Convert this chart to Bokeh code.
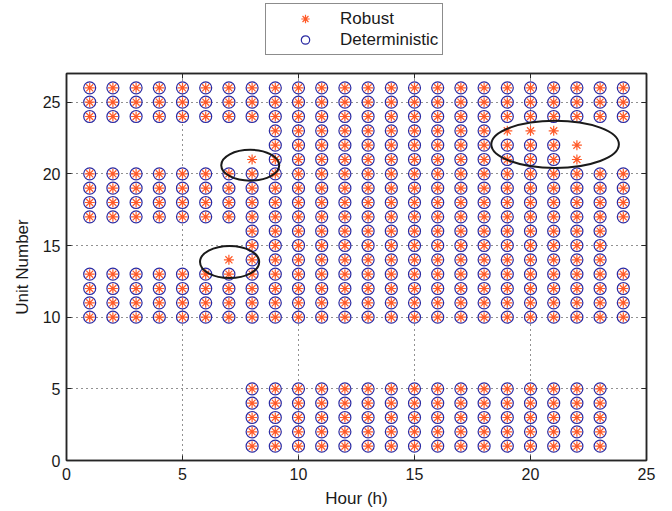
from bokeh.plotting import figure
from bokeh.layouts import column
from bokeh.models import (Range1d, FixedTicker, LinearAxis, Legend, LegendItem,
                          CustomJSTickFormatter)
from bokeh.embed import file_html
from bokeh.resources import INLINE

# ---- data: committed hours per unit (first..last hour on) ----
units     = [1, 2, 3, 4, 5, 10, 11, 12, 13, 14, 15, 16, 17, 18, 19, 20, 21, 22, 23, 24, 25, 26]
det_first = [8, 8, 8, 8, 8, 1, 1, 1, 1, 8, 8, 8, 1, 1, 1, 1, 9, 9, 9, 1, 1, 1]
det_last  = [23, 23, 23, 23, 23, 24, 24, 24, 24, 23, 23, 23, 24, 24, 24, 24, 21, 21, 18, 24, 24, 24]
rob_first = [8, 8, 8, 8, 8, 1, 1, 1, 1, 7, 8, 8, 1, 1, 1, 1, 8, 9, 9, 1, 1, 1]
rob_last  = [23, 23, 23, 23, 23, 24, 24, 24, 24, 23, 23, 23, 24, 24, 24, 24, 22, 22, 21, 24, 24, 24]

# highlighted differences (ellipses, data units)
ell_x = [7.92, 7.03, 21.06]
ell_y = [20.6, 13.85, 22.06]
ell_w = [2.5, 2.55, 5.5]
ell_h = [2.15, 2.24, 3.3]

x_ticks = [0, 5, 10, 15, 20, 25]
y_ticks = [0, 5, 10, 15, 20, 25]


def expand(us, first, last):
    xs, ys = [], []
    for u, a, b in zip(us, first, last):
        for h in range(a, b + 1):
            xs.append(h)
            ys.append(u)
    return xs, ys


dx, dy = expand(units, det_first, det_last)
rx, ry = expand(units, rob_first, rob_last)

FONT = "Liberation Sans"
AX = "#262626"
BLUE = "#2b2ba3"
ORANGE = "#ff5a28"

LEG_H = 60

# ---------------- legend strip (same series, view window kept off the data) ----------------
lf = figure(width=672, height=LEG_H, output_backend="svg", toolbar_location=None,
            x_range=Range1d(100, 101), y_range=Range1d(100, 101),
            x_axis_type=None, y_axis_type=None,
            min_border_left=0, min_border_right=0, min_border_top=0, min_border_bottom=0)
lf.outline_line_color = None
lf.xgrid.visible = False
lf.ygrid.visible = False
lf.background_fill_color = "white"
lf.border_fill_color = "white"
l_rob = lf.scatter(rx, ry, marker="asterisk", size=10, line_color=ORANGE, line_width=1.2)
l_det = lf.scatter(dx, dy, marker="circle", size=12, fill_color=None,
                   line_color=BLUE, line_width=1.2)
legend = Legend(items=[LegendItem(label="Robust", renderers=[l_rob]),
                       LegendItem(label="Deterministic", renderers=[l_det])],
                location=(199, 5), orientation="vertical",
                label_text_font=FONT, label_text_font_size="17px",
                label_text_color="#1a1a1a",
                glyph_width=70, glyph_height=21, label_height=20,
                label_standoff=0, padding=4, spacing=0, margin=0,
                border_line_color="#1a1a1a", border_line_width=1,
                background_fill_color="white", background_fill_alpha=1)
lf.add_layout(legend, "center")

# ---------------- main plot ----------------
p = figure(width=672, height=511 - LEG_H, output_backend="svg", toolbar_location=None,
           x_range=Range1d(0, 25), y_range=Range1d(0, 27),
           min_border_left=66, min_border_right=26, min_border_top=73 - LEG_H,
           min_border_bottom=51)
p.background_fill_color = "white"
p.border_fill_color = "white"
p.outline_line_color = AX
p.outline_line_width = 1.5

for ax in (p.xaxis[0], p.yaxis[0]):
    ax.ticker = FixedTicker(ticks=x_ticks if ax is p.xaxis[0] else y_ticks)
    ax.major_tick_in = 5
    ax.major_tick_out = 0
    ax.minor_tick_line_color = None
    ax.axis_line_color = AX
    ax.axis_line_width = 1.5
    ax.major_tick_line_color = AX
    ax.major_label_text_font = FONT
    ax.major_label_text_font_size = "16px"
    ax.major_label_text_color = "#1a1a1a"
    ax.axis_label_text_font = FONT
    ax.axis_label_text_font_size = "17px"
    ax.axis_label_text_font_style = "normal"
    ax.axis_label_text_color = "#1a1a1a"

p.xaxis.axis_label = "Hour (h)"
p.yaxis.axis_label = "Unit Number"
p.xaxis.major_label_standoff = 7
p.xaxis.axis_label_standoff = 6
p.yaxis.major_label_standoff = 6
p.yaxis.axis_label_standoff = 8

blank = CustomJSTickFormatter(code="return ''")
top = LinearAxis(ticker=FixedTicker(ticks=x_ticks), formatter=blank,
                 major_tick_in=5, major_tick_out=0, minor_tick_line_color=None,
                 major_label_standoff=0,
                 axis_line_color=AX, axis_line_width=1.5, major_tick_line_color=AX)
right = LinearAxis(ticker=FixedTicker(ticks=y_ticks), formatter=blank,
                   major_tick_in=5, major_tick_out=0, minor_tick_line_color=None,
                   axis_line_color=AX, axis_line_width=1.5, major_tick_line_color=AX)
p.add_layout(top, "above")
p.add_layout(right, "right")

p.xgrid.ticker = FixedTicker(ticks=x_ticks)
p.ygrid.ticker = FixedTicker(ticks=y_ticks)
for g in (p.xgrid[0], p.ygrid[0]):
    g.grid_line_color = "#222222"
    g.grid_line_dash = "1 4"
    g.grid_line_width = 1

p.scatter(dx, dy, marker="circle", size=12, fill_color=None,
          line_color=BLUE, line_width=1.2)
p.scatter(rx, ry, marker="asterisk", size=10, line_color=ORANGE, line_width=1.2)

p.ellipse(x=ell_x, y=ell_y, width=ell_w, height=ell_h, fill_color=None,
          line_color="#1a1a1a", line_width=2)

layout = column(lf, p, spacing=0)
open("out.html", "w").write(file_html(layout, INLINE))
